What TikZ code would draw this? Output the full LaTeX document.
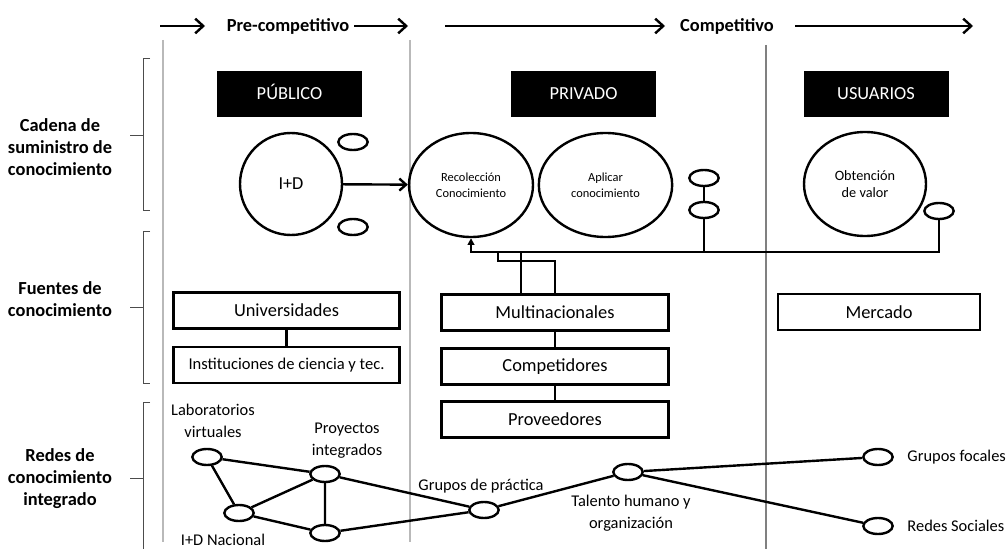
\documentclass[tikz,border=0pt]{standalone}
\usepackage{fontspec}
\setmainfont{Carlito}
\usetikzlibrary{arrows.meta, positioning, shapes.geometric}

\begin{document}
\begin{tikzpicture}[x=0.75pt, y=-0.75pt,
	box/.style={shape=rectangle, draw, line width=2.1pt, minimum width=170pt, minimum height=27pt, font=\fontsize{13.8}{16}\selectfont},
	head/.style={shape=rectangle, fill=black, minimum width=108.75pt, minimum height=34.5pt, text height=10pt, text depth=1pt, text=white, font=\fontsize{13.8}{16}\selectfont},
	blob/.style={shape=ellipse, draw, line width=1.8pt, inner sep=0pt, align=center},
	dot/.style={shape=ellipse, draw, line width=1.8pt, minimum width=22pt, minimum height=12pt, inner sep=0pt},
	lbl/.style={font=\fontsize{12.3}{16.5}\selectfont, align=center, inner sep=0pt},
	side/.style={font=\bfseries\fontsize{13.8}{16.5}\selectfont, align=center, inner sep=0pt},
	phase/.style={line width=1.8pt, -{Straight Barb[length=6pt, width=11pt]}},
	wire/.style={line width=1.8pt},
	sep/.style={draw=gray!55, line width=0.8pt},
	brace/.style={draw=black!70, line width=0.6pt}]
	\useasboundingbox (0,0) rectangle (1006,549);
	% Phases, separators and brackets:
	\node[side](N1) at (288,26){Pre-competitivo};
	\node[side](N2) at (727,26){Competitivo};
	\draw[phase] (160,26) -- (205,26);
	\draw[phase] (354,26) -- (408,26);
	\draw[phase] (445,26) -- (665,26);
	\draw[phase] (795,26) -- (973,26);
	\draw[sep] (163,40) -- (163,542);
	\draw[sep] (410,40) -- (410,542);
	\draw[sep, draw=gray] (766,45) -- (766,549);
	\draw[brace] (150,58) -- (143,58) -- (143,210) -- (150,210) (143,135) -- (130,135);
	\draw[brace] (150,231) -- (143,231) -- (143,383) -- (150,383) (143,307) -- (130,307);
	\draw[brace] (150,402) -- (143,402) -- (143,549) (143,478) -- (130,478);
	\node[side](N3) at (60,147){Cadena de\\suministro de\\conocimiento};
	\node[side](N4) at (60,299){Fuentes de\\conocimiento};
	\node[side](N5) at (60,479){Redes de\\conocimiento\\integrado};
	% Supply chain:
	\node[head](N6) at (289.5,94){PÚBLICO};
	\node[head](N7) at (583.5,94){PRIVADO};
	\node[head](N8) at (876,94){USUARIOS};
	\node[blob, minimum width=76.5pt, minimum height=76.5pt, font=\fontsize{13.7}{16}\selectfont](N9) at (291,184){I+D};
	\node[blob, minimum width=93pt, minimum height=78pt, font=\fontsize{9.3}{12}\selectfont](N10) at (471,185){Recolección\\Conocimiento};
	\node[blob, minimum width=100pt, minimum height=78pt, font=\fontsize{9.3}{12}\selectfont](N11) at (605.5,185){Aplicar\\conocimiento};
	\node[blob, minimum width=91.5pt, minimum height=78pt, font=\fontsize{10.7}{12.75}\selectfont](N12) at (865,184){Obtención\\de valor};
	\node[dot](N13) at (353,142){};
	\node[dot](N14) at (353,227){};
	\node[dot](N15) at (704,178){};
	\node[dot](N16) at (704,210){};
	\node[dot](N17) at (939,211){};
	\coordinate (C1) at (939,252);
	\coordinate (C2) at (498,261);
	\coordinate (C3) at (521,252);
	\draw[wire, -{Straight Barb[length=5pt, width=9pt]}] (N9) -- (N10);
	\draw[wire] (N15) -- (N16);
	\draw[wire, -{Triangle[length=5pt, width=5pt]}] (N17.south) -- (C1) -| (N10.south);
	\draw[wire] (N16.south) -- (N16.south |- C1);
	% Sources:
	\node[box](N18) at (286.5,310.5){Universidades};
	\node[box, font=\fontsize{12.4}{15}\selectfont](N19) at (286.5,365){Instituciones de ciencia y tec.};
	\node[box](N20) at (555,312.5){Multinacionales};
	\node[box](N21) at (555,366.5){Competidores};
	\node[box](N22) at (555,419.5){Proveedores};
	\node[box, minimum width=151.5pt](N23) at (879,312){Mercado};
	\draw[wire] (N18) -- (N19);
	\draw[wire] (N20) -- (N21) -- (N22);
	\draw[wire] (C3 |- N20.north) -- (C3);
	\draw[wire] (N20.north) |- (C2) -- (C2 |- C1);
	% Networks:
	\node[dot](N24) at (207,457){};
	\node[dot](N25) at (325,474){};
	\node[dot](N26) at (239,513){};
	\node[dot](N27) at (325,533){};
	\node[dot](N28) at (484,510){};
	\node[dot](N29) at (628,472){};
	\node[dot](N30) at (878,457){};
	\node[dot](N31) at (878,526){};
	\node[lbl](N32) at (213,421){Laboratorios\\virtuales};
	\node[lbl](N33) at (347,441){Proyectos\\integrados};
	\node[lbl](N34) at (223,540){I+D Nacional};
	\node[lbl](N35) at (481,486){Grupos de práctica};
	\node[lbl](N36) at (631,513){Talento humano y\\organización};
	\node[lbl, right=10pt of N30](N37){Grupos focales};
	\node[lbl, right=10pt of N31](N38){Redes Sociales};
	\draw[wire] (N24) -- (N25) (N24) -- (N26) (N26) -- (N25) (N26) -- (N27) (N25) -- (N27);
	\draw[wire] (N25) -- (N28) (N27) -- (N28) (N28) -- (N29) (N29) -- (N30) (N29) -- (N31);
\end{tikzpicture}
\end{document}
